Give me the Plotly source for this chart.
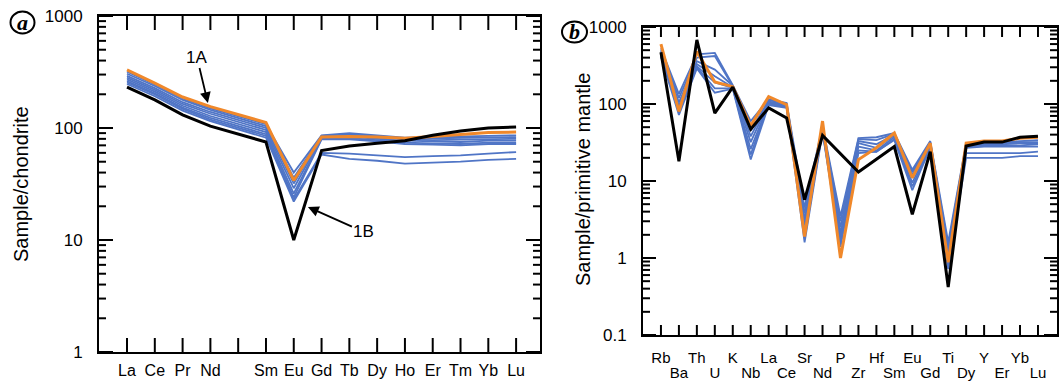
import plotly.graph_objects as go

W, H = 1059, 383

# ---------------- Panel a : chondrite-normalised REE ----------------
ree_labels = ["La", "Ce", "Pr", "Nd", "", "Sm", "Eu", "Gd", "Tb", "Dy", "Ho", "Er", "Tm", "Yb", "Lu"]
ree = ["La", "Ce", "Pr", "Nd", "Sm", "Eu", "Gd", "Tb", "Dy", "Ho", "Er", "Tm", "Yb", "Lu"]
ree_pos = [0, 1, 2, 3, 5, 6, 7, 8, 9, 10, 11, 12, 13, 14]

orange_a = [330, 252, 189, 155, 112, 34, 83, 84, 83, 81, 84, 88, 91, 92]
black_a = [232, 178, 131, 104, 75, 10, 63, 69, 73, 77, 86, 94, 100, 102]
blue_a1 = [318, 245, 184, 150, 108, 40, 86, 90, 86, 82, 83, 84, 85, 86]
blue_a2 = [305, 237, 178, 145, 104, 36, 85, 88, 84, 80, 81, 82, 83, 83]
blue_a3 = [292, 227, 170, 139, 100, 32, 83, 86, 82, 79, 78, 79, 80, 80]
blue_a4 = [282, 219, 164, 134, 96, 29, 82, 84, 80, 77, 76, 75, 77, 77]
blue_a5 = [272, 211, 158, 128, 92, 26, 80, 81, 78, 74, 73, 72, 74, 74]
blue_a6 = [262, 204, 152, 123, 88, 24, 79, 79, 76, 72, 71, 70, 72, 72]
blue_a7 = [255, 199, 148, 119, 85, 23, 60, 59, 57, 55, 56, 57, 59, 61]
blue_a8 = [247, 192, 143, 115, 82, 22, 58, 53, 51, 48, 49, 50, 52, 53]
blues_a = [blue_a1, blue_a2, blue_a3, blue_a4, blue_a5, blue_a6, blue_a7, blue_a8]

# ---------------- Panel b : primitive-mantle-normalised ----------------
elements = ["Rb", "Ba", "Th", "U", "K", "Nb", "La", "Ce", "Sr", "Nd", "P",
            "Zr", "Hf", "Sm", "Eu", "Gd", "Ti", "Dy", "Y", "Er", "Yb", "Lu"]
elem_pos = list(range(len(elements)))

orange_b = [600, 80, 480, 193, 168, 52, 125, 98, 1.9, 60, 1.0, 19, 27, 42, 11, 31, 0.88, 31, 33, 33, 36, 37]
black_b = [470, 18, 680, 76, 166, 47, 89, 66, 5.7, 39, None, 13.1, None, 28, 3.7, 24, 0.42, 28.5, 32, 32, 37, 38]
blue_b1 = [530, 135, 440, 460, 175, 60, 115, 103, 4.5, 52, 3.5, 36, 37, 42, 14, 33, 1.6, 31, 32, 32, 33, 34]
blue_b2 = [500, 120, 400, 420, 170, 45, 112, 100, 3.8, 50, 3.0, 35, 34, 41, 13, 32, 1.4, 30, 31, 31, 32, 32]
blue_b3 = [480, 105, 360, 280, 172, 38, 108, 97, 3.2, 48, 2.5, 33, 30, 40, 12, 31, 1.3, 29, 30, 30, 31, 31]
blue_b4 = [460, 95, 330, 230, 165, 32, 105, 95, 2.7, 47, 2.1, 31, 27, 39, 11, 30, 1.15, 28, 29, 29, 29, 30]
blue_b5 = [440, 85, 310, 190, 162, 26, 102, 93, 2.2, 45, 1.8, 28, 25, 37, 9.5, 29, 1.0, 27, 28, 28, 28, 28]
blue_b6 = [420, 78, 300, 160, 160, 22, 100, 91, 1.9, 44, 1.6, 25, 24, 35, 8.5, 28, 0.85, 23, 23, 23, 23, 24]
blue_b7 = [410, 72, 290, 140, 158, 19, 97, 89, 1.6, 43, 1.4, 23, 24, 34, 7.6, 27, 0.72, 20, 20, 20, 21, 21]
blues_b = [blue_b1, blue_b2, blue_b3, blue_b4, blue_b5, blue_b6, blue_b7]

ya_major = [1, 10, 100, 1000]
yb_major = [0.1, 1, 10, 100, 1000]

BLUE = "#5075c6"
ORANGE = "#f0882a"
BLACK = "#000000"
FONT = "Liberation Sans, Arial, Helvetica, sans-serif"

fig = go.Figure()

def add(x, y, color, width, xa, ya):
    fig.add_trace(go.Scatter(x=x, y=y, mode="lines", connectgaps=True,
                             line=dict(color=color, width=width),
                             xaxis=xa, yaxis=ya, showlegend=False, hoverinfo="skip"))

for b in blues_a:
    add(ree_pos, b, BLUE, 1.8, "x", "y")
add(ree_pos, orange_a, ORANGE, 3, "x", "y")
add(ree_pos, black_a, BLACK, 3, "x", "y")

for b in blues_b:
    add(elem_pos, b, BLUE, 1.8, "x2", "y2")
add(elem_pos, orange_b, ORANGE, 3, "x2", "y2")
add(elem_pos, black_b, BLACK, 3, "x2", "y2")
fig.add_trace(go.Scatter(x=[], y=[], xaxis="x3", yaxis="y2", showlegend=False, hoverinfo="skip"))

def px(v):
    return v / W

def py(v):
    return 1 - v / H

def minor_vals(lo, hi):
    vals = []
    d = lo
    while d < hi:
        vals += [d * k for k in range(2, 10)]
        d *= 10
    return vals

# panel geometry (pixels)
A_L, A_R, A_T, A_B = 99, 540, 16, 352
B_L, B_R, B_T, B_B = 643, 1057, 27, 335

upper_text = [e if i % 2 == 0 else "" for i, e in enumerate(elements)]
lower_vals = [i for i in elem_pos if i % 2 == 1]
lower_text = [elements[i] for i in lower_vals]

frame = dict(ticks="", showline=True, linewidth=2, linecolor="black", mirror=True,
             showgrid=False, zeroline=False, automargin=False)

fig.update_layout(
    width=W, height=H, margin=dict(l=0, r=0, t=0, b=0, pad=0, autoexpand=False),
    paper_bgcolor="white", plot_bgcolor="white",
    xaxis=dict(domain=[px(A_L), px(A_R)], anchor="y", range=[-1.008, 14.86],
               tickmode="array", tickvals=list(range(15)), ticktext=ree_labels,
               ticklabelstandoff=3, tickfont=dict(family=FONT, size=16, color="black"), **frame),
    yaxis=dict(domain=[py(A_B), py(A_T)], anchor="x", type="log", range=[0, 3],
               tickmode="array", tickvals=ya_major, ticktext=[str(v) for v in ya_major],
               ticklabelstandoff=11, tickfont=dict(family=FONT, size=17, color="black"), **frame),
    xaxis2=dict(domain=[px(B_L), px(B_R)], anchor="y2", range=[-1.0, 22.06],
                tickmode="array", tickvals=elem_pos, ticktext=upper_text,
                ticklabelstandoff=8, tickfont=dict(family=FONT, size=15, color="black"), **frame),
    xaxis3=dict(domain=[px(B_L), px(B_R)], anchor="y2", overlaying="x2", side="bottom",
                range=[-1.0, 22.06], tickmode="array", tickvals=lower_vals, ticktext=lower_text,
                ticks="", showline=False, showgrid=False, zeroline=False, automargin=False,
                ticklabelstandoff=27, tickfont=dict(family=FONT, size=15, color="black")),
    yaxis2=dict(domain=[py(B_B), py(B_T)], anchor="x2", type="log", range=[-1, 3],
                tickmode="array", tickvals=yb_major, ticktext=["0.1", "1", "10", "100", "1000"],
                ticklabelstandoff=11, tickfont=dict(family=FONT, size=17, color="black"), **frame),
)

# inward tick marks on all four sides, placed through the axes' own coordinates
TICK = dict(color="black", width=2)
shapes = []

def xticks(xref, yref, vals, length_px, height_px):
    f = length_px / height_px
    for v in vals:
        shapes.append(dict(type="line", xref=xref, yref=yref + " domain", x0=v, x1=v,
                           y0=0, y1=f, line=TICK))
        shapes.append(dict(type="line", xref=xref, yref=yref + " domain", x0=v, x1=v,
                           y0=1 - f, y1=1, line=TICK))

def yticks(xref, yref, vals, length_px, width_px):
    f = length_px / width_px
    for v in vals:
        shapes.append(dict(type="line", xref=xref + " domain", yref=yref, x0=0, x1=f,
                           y0=v, y1=v, line=TICK))
        shapes.append(dict(type="line", xref=xref + " domain", yref=yref, x0=1 - f, x1=1,
                           y0=v, y1=v, line=TICK))

xticks("x", "y", list(range(15)), 14, A_B - A_T)
yticks("x", "y", ya_major, 14, A_R - A_L)
yticks("x", "y", minor_vals(1, 1000), 7, A_R - A_L)
xticks("x2", "y2", elem_pos, 10, B_B - B_T)
yticks("x2", "y2", yb_major, 13, B_R - B_L)
yticks("x2", "y2", minor_vals(0.1, 1000), 7, B_R - B_L)

# panel letters in circles
for (cx, cy, rx, ry) in [(22.5, 22.5, 12, 11), (574.5, 32, 12.5, 10.5)]:
    shapes.append(dict(type="circle", xref="paper", yref="paper",
                       x0=px(cx - rx), x1=px(cx + rx), y0=py(cy + ry), y1=py(cy - ry),
                       fillcolor="rgba(0,0,0,0)", line=dict(color="black", width=2)))

fig.update_layout(shapes=shapes)

for (cx, cy, letter) in [(22.5, 22.5, "a"), (574.5, 32, "b")]:
    fig.add_annotation(xref="paper", yref="paper", x=px(cx), y=py(cy), showarrow=False,
                       text="<b><i>" + letter + "</i></b>", xanchor="center", yanchor="middle",
                       font=dict(family="Liberation Serif, Times New Roman, serif", size=22, color="black"))

# axis titles
fig.add_annotation(xref="paper", yref="paper", x=px(21), y=py(184), showarrow=False,
                   text="Sample/chondrite", textangle=-90, xanchor="center", yanchor="middle",
                   font=dict(family=FONT, size=20, color="black"))
fig.add_annotation(xref="paper", yref="paper", x=px(583), y=py(180), showarrow=False,
                   text="Sample/primitive mantle", textangle=-90, xanchor="center", yanchor="middle",
                   font=dict(family=FONT, size=20, color="black"))

# sample labels with arrows
fig.add_annotation(xref="x", yref="y", x=2.91, y=2.223, text="1A", showarrow=True,
                   ax=-11, ay=-46, arrowhead=2, arrowsize=1.2, arrowwidth=1.8, arrowcolor="black",
                   font=dict(family=FONT, size=17, color="black"))
fig.add_annotation(xref="x", yref="y", x=6.51, y=1.295, text="1B", showarrow=True,
                   ax=56, ay=25, arrowhead=2, arrowsize=1.2, arrowwidth=1.8, arrowcolor="black",
                   font=dict(family=FONT, size=17, color="black"))

fig.write_html("out.html", config={"displayModeBar": False},
               post_script="document.body.style.margin='0';document.body.style.overflow='hidden';")
